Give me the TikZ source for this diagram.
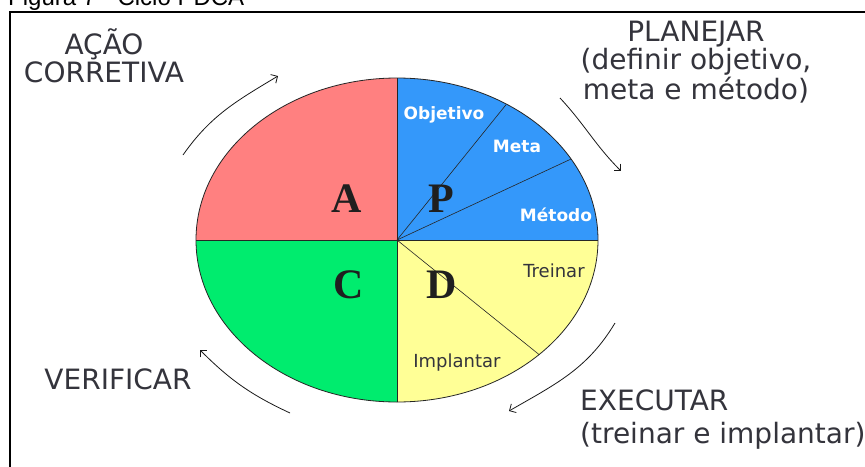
\documentclass[tikz,border=0pt]{standalone}
\usepackage{fontspec}
\setmainfont{DejaVu Sans}
\newfontfamily\capfont{Liberation Sans}
\newfontfamily\letterfont{Liberation Serif}
\usetikzlibrary{arrows.meta}

\definecolor{actred}{RGB}{255,128,128}
\definecolor{planblue}{RGB}{52,152,250}
\definecolor{checkgreen}{RGB}{0,236,110}
\definecolor{doyellow}{RGB}{255,255,150}
\definecolor{labelgray}{RGB}{52,52,60}

\begin{document}
\begin{tikzpicture}[x=1pt,y=1pt,
  biglabel/.style={text=labelgray,font=\fontsize{28}{26}\selectfont,inner sep=0,align=center},
  phaseletter/.style={text=black!88,font=\letterfont\bfseries\fontsize{42}{42}\selectfont,inner sep=0,anchor=base},
  steplabel/.style={text=white,font=\bfseries\fontsize{17}{17}\selectfont,inner sep=0,anchor=base},
  substep/.style={text=labelgray,font=\fontsize{18}{18}\selectfont,inner sep=0,anchor=base},
  divider/.style={draw=black!85,line width=0.6pt},
  cycarrow/.style={draw=black!90,line width=0.8pt,-{Straight Barb[length=5pt,width=10pt]}}]

\useasboundingbox (0,0) rectangle (865,-466);
\clip (0,0) rectangle (865,-466);
\fill[white] (0,0) rectangle (865,-466);

% caption above the frame
\node[text=black,font=\capfont\fontsize{24}{24}\selectfont,inner sep=0,anchor=base west] (caption) at (8,-5) {Figura 7 - Ciclo PDCA};

% frame
\draw[line width=2pt] (9.5,-520) rectangle (920,-12);

% the cycle
\coordinate (O) at (397,-240);
\begin{scope}
  \clip (O) ellipse [x radius=201, y radius=162];
  \fill[actred] (O) rectangle (150,-40);
  \fill[planblue] (O) rectangle (650,-40);
  \fill[checkgreen] (O) rectangle (150,-450);
  \fill[doyellow] (O) rectangle (650,-450);
  \coordinate (d1) at (506.5,-104.1);
  \coordinate (d2) at (571.1,-159.0);
  \coordinate (d3) at (539.1,-354.6);
  \coordinate (vt) at (397,-70);
  \coordinate (vb) at (397,-410);
  \coordinate (hl) at (190,-240);
  \coordinate (hr) at (605,-240);
  \draw[divider] (O) -- (d1);
  \draw[divider] (O) -- (d2);
  \draw[divider] (O) -- (d3);
  \draw[divider,line width=0.8pt] (vt) -- (vb);
  \draw[divider,line width=0.8pt] (hl) -- (hr);
\end{scope}
\draw[black!85,line width=0.8pt] (O) ellipse [x radius=201, y radius=162];

% phase letters
\node[phaseletter] (lA) at (347,-212) {A};
\node[phaseletter] (lP) at (441,-212) {P};
\node[phaseletter] (lC) at (349,-298) {C};
\node[phaseletter] (lD) at (442,-298) {D};

% sub-steps
\node[steplabel] (obj) at (444,-119) {Objetivo};
\node[steplabel] (meta) at (517,-152) {Meta};
\node[steplabel] (met) at (556,-221) {Método};
\node[substep] (tre) at (554,-277) {Treinar};
\node[substep] (imp) at (457,-367) {Implantar};

% phase descriptions (base anchor sits on the last line)
\node[biglabel,anchor=base] (acao) at (104,-82) {AÇÃO\\CORRETIVA};
\node[biglabel,anchor=base] (plan) at (696,-99) {PLANEJAR\\(definir objetivo,\\meta e método)};
\node[biglabel,anchor=base] (ver) at (118,-389) {VERIFICAR};
\node[biglabel,anchor=base west] (exe) at (580,-410) {EXECUTAR};
\node[biglabel,anchor=base west] (exed) at (580,-443) {(treinar e implantar)};

% cycle arrows
\coordinate (a1s) at (183,-155);
\coordinate (a1e) at (278,-76);
\coordinate (a2s) at (560,-98);
\coordinate (a2e) at (621,-171);
\coordinate (a3s) at (615,-323);
\coordinate (a3e) at (509,-411);
\coordinate (a4s) at (290,-413);
\coordinate (a4e) at (200,-350);
\draw[cycarrow] (a1s) to[out=55,in=211] (a1e);
\draw[cycarrow] (a2s) to[out=-47,in=135] (a2e);
\draw[cycarrow] (a3s) to[out=239,in=30] (a3e);
\draw[cycarrow] (a4s) to[out=155,in=-45] (a4e);
\end{tikzpicture}
\end{document}
